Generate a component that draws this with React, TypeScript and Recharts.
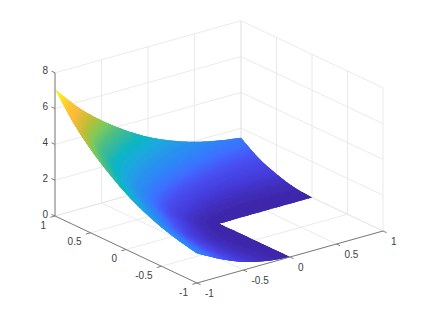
import { ScatterChart, Scatter, XAxis, YAxis } from 'recharts';

const xTicks = [-1, -0.5, 0, 0.5, 1];
const yTicks = [-1, -0.5, 0, 0.5, 1];
const zTicks = [0, 2, 4, 6, 8];
const xTickLabels = ['-1', '-0.5', '0', '0.5', '1'];
const yTickLabels = ['-1', '-0.5', '0', '0.5', '1'];
const zTickLabels = ['0', '2', '4', '6', '8'];

// surface heights, one row per y, x from -1 to 1
const gridX = [-1, -0.75, -0.5, -0.25, 0, 0.25, 0.5, 0.75, 1];
const gridY = [1, 0.75, 0.5, 0.25, 0, -0.25, -0.5, -0.75, -1];
const zY100 = [7.09, 5.71, 4.62, 3.72, 2.97, 2.4, 1.97, 1.67, 1.47];
const zY075 = [5.71, 4.2, 3.15, 2.35, 1.75, 1.32, 1.04, 0.87, 0.8];
const zY050 = [4.66, 3.15, 2.05, 1.25, 0.8, 0.52, 0.4, 0.38, 0.38];
const zY025 = [3.82, 2.45, 1.3, 0.52, 0.22, 0.11, 0.09, 0.09, 0.1];
const zY000 = [3.12, 1.88, 0.88, 0.22, 0, 0, 0, 0, 0];
const zYm025 = [2.58, 1.42, 0.55, 0.11, 0, null, null, null, null];
const zYm050 = [2.17, 1.14, 0.45, 0.1, 0, null, null, null, null];
const zYm075 = [1.87, 1.02, 0.43, 0.12, 0, null, null, null, null];
const zYm100 = [1.65, 0.98, 0.45, 0.14, 0, null, null, null, null];
const zRows = [zY100, zY075, zY050, zY025, zY000, zYm025, zYm050, zYm075, zYm100];

const W = 423;
const H = 317;
const Z_MAX = 7.09;
const SUBDIV = 8;

const PARULA: [number, number, number, number][] = [
  [0, 62, 38, 168],
  [0.06, 70, 60, 220],
  [0.125, 72, 82, 244],
  [0.175, 62, 111, 255],
  [0.24, 46, 135, 247],
  [0.3, 39, 150, 235],
  [0.365, 28, 170, 223],
  [0.44, 10, 183, 195],
  [0.5, 51, 184, 161],
  [0.55, 75, 190, 135],
  [0.625, 128, 203, 88],
  [0.7, 190, 190, 55],
  [0.8, 250, 186, 60],
  [0.875, 254, 200, 48],
  [0.94, 250, 230, 35],
  [1, 249, 251, 20],
];

function parula(t: number) {
  const v = Math.max(0, Math.min(1, t));
  for (let i = 1; i < PARULA.length; i++) {
    if (v <= PARULA[i][0]) {
      const a = PARULA[i - 1];
      const b = PARULA[i];
      const f = (v - a[0]) / (b[0] - a[0]);
      const c = (k: number) => Math.round(a[k] + (b[k] - a[k]) * f);
      return `rgb(${c(1)},${c(2)},${c(3)})`;
    }
  }
  return 'rgb(249,251,20)';
}

// orthographic view of the box, gives chart coordinates
const project = (x: number, y: number, z: number) => ({
  sx: 219 + 93 * x - 71 * y,
  sy: 223.5 - 26 * x - 33.5 * y - 17.9 * z,
});

type Seg = { a: number[]; b: number[]; stroke: string };
const GRID = '#e4e4e4';
const AXIS = '#7d7d7d';
const segs: Seg[] = [];
const add = (a: number[], b: number[], stroke: string) => segs.push({ a, b, stroke });

xTicks.forEach((x) => {
  add([x, -1, 0], [x, 1, 0], GRID);
  add([x, 1, 0], [x, 1, 8], GRID);
});
yTicks.forEach((y) => {
  add([-1, y, 0], [1, y, 0], GRID);
  add([1, y, 0], [1, y, 8], GRID);
});
zTicks.forEach((z) => {
  add([-1, 1, z], [1, 1, z], GRID);
  add([1, 1, z], [1, -1, z], GRID);
});

const axisSegs: Seg[] = [];
const addAxis = (a: number[], b: number[]) => axisSegs.push({ a, b, stroke: AXIS });
addAxis([-1, 1, 0], [-1, 1, 8]);
addAxis([-1, 1, 0], [-1, -1, 0]);
addAxis([-1, -1, 0], [1, -1, 0]);
zTicks.forEach((z) => addAxis([-1, 1, z], [-1, 1.05, z]));
yTicks.forEach((y) => addAxis([-1, y, 0], [-1.05, y, 0]));
xTicks.forEach((x) => addAxis([x, -1, 0], [x, -1.05, 0]));

const gridPoints: any[] = [];
zRows.forEach((row, j) =>
  row.forEach((z, i) => {
    if (z !== null) gridPoints.push({ ...project(gridX[i], gridY[j], z), i, j, z });
  })
);

const labels = [
  ...zTicks.map((z, k) => ({ ...project(-1, 1, z), label: zTickLabels[k], dx: -7, dy: 1.5, anchor: 'end' })),
  ...yTicks.map((y, k) => ({ ...project(-1, y, 0), label: yTickLabels[k], dx: -9, dy: 12.5, anchor: 'end' })),
  ...xTicks.map((x, k) => ({ ...project(x, -1, 0), label: xTickLabels[k], dx: 8, dy: 14, anchor: 'start' })),
];

const catmull = (p0: number, p1: number, p2: number, p3: number, t: number) =>
  0.5 * (2 * p1 + (p2 - p0) * t + (2 * p0 - 5 * p1 + 4 * p2 - p3) * t * t + (3 * p1 - p0 - 3 * p2 + p3) * t * t * t);

// shading interp: the mesh is filled in small patches between the grid nodes,
// a blurred copy on top hides the patch seams, the clip keeps the edge sharp
function SurfaceMesh({ points }: { points: { x: number; y: number }[] }) {
  const nodes: Record<string, number[]> = {};
  gridPoints.forEach((g, k) => {
    nodes[`${g.i},${g.j}`] = [points[k].x, points[k].y, g.z];
  });
  const at = (i: number, j: number): number[] => {
    const n = nodes[`${i},${j}`];
    if (n) return n;
    for (const [d, e] of [[1, 0], [-1, 0], [0, 1], [0, -1]]) {
      const a = nodes[`${i + d},${j + e}`];
      const b = nodes[`${i + 2 * d},${j + 2 * e}`];
      if (a && b) return a.map((v, m) => 2 * v - b[m]);
    }
    for (const [d, e] of [[1, 1], [-1, 1], [1, -1], [-1, -1]]) {
      const a = nodes[`${i + d},${j + e}`];
      if (a) return a;
    }
    return [0, 0, 0];
  };
  const sample = (i: number, j: number, s: number, t: number) => {
    const cols = [-1, 0, 1, 2].map((dj) => {
      const p = [-1, 0, 1, 2].map((di) => at(i + di, j + dj));
      return [0, 1, 2].map((m) => catmull(p[0][m], p[1][m], p[2][m], p[3][m], s));
    });
    return [0, 1, 2].map((m) => catmull(cols[0][m], cols[1][m], cols[2][m], cols[3][m], t));
  };
  const polys: any[] = [];
  // far corner first
  for (let j = 0; j < gridY.length - 1; j++) {
    for (let i = gridX.length - 2; i >= 0; i--) {
      if (!nodes[`${i},${j}`] || !nodes[`${i + 1},${j}`] || !nodes[`${i},${j + 1}`] || !nodes[`${i + 1},${j + 1}`]) continue;
      for (let v = 0; v < SUBDIV; v++) {
        for (let u = SUBDIV - 1; u >= 0; u--) {
          const c = [
            sample(i, j, u / SUBDIV, v / SUBDIV),
            sample(i, j, (u + 1) / SUBDIV, v / SUBDIV),
            sample(i, j, (u + 1) / SUBDIV, (v + 1) / SUBDIV),
            sample(i, j, u / SUBDIV, (v + 1) / SUBDIV),
          ];
          const col = parula((c[0][2] + c[1][2] + c[2][2] + c[3][2]) / 4 / Z_MAX);
          polys.push(
            <polygon
              key={`${i}-${j}-${u}-${v}`}
              points={c.map((q) => `${q[0].toFixed(2)},${q[1].toFixed(2)}`).join(' ')}
              fill={col}
              stroke={col}
              strokeWidth={1}
            />
          );
        }
      }
    }
  }
  // outline of the L, walked round cell by cell
  const rim: number[][] = [];
  const steps = [...Array(SUBDIV).keys()].map((k) => k / SUBDIV);
  for (let i = 0; i < 8; i++) steps.forEach((s) => rim.push(sample(i, 0, s, 0)));
  for (let j = 0; j < 4; j++) steps.forEach((t) => rim.push(sample(7, j, 1, t)));
  for (let i = 7; i >= 4; i--) steps.forEach((s) => rim.push(sample(i, 3, 1 - s, 1)));
  for (let j = 4; j < 8; j++) steps.forEach((t) => rim.push(sample(3, j, 1, t)));
  for (let i = 3; i >= 0; i--) steps.forEach((s) => rim.push(sample(i, 7, 1 - s, 1)));
  for (let j = 7; j >= 0; j--) steps.forEach((t) => rim.push(sample(0, j, 0, 1 - t)));
  const rimPoints = rim.map((q) => `${q[0].toFixed(2)},${q[1].toFixed(2)}`).join(' ');
  return (
    <g>
      <defs>
        <clipPath id="surfaceRim">
          <polygon points={rimPoints} />
        </clipPath>
        <filter id="surfaceBlur" x="-10%" y="-10%" width="120%" height="120%">
          <feGaussianBlur stdDeviation={1.2} />
        </filter>
      </defs>
      <g clipPath="url(#surfaceRim)">
        <g>{polys}</g>
        <g filter="url(#surfaceBlur)">{polys}</g>
      </g>
    </g>
  );
}

const noDot = () => <g />;

export default function App() {
  return (
    <div style={{ position: 'absolute', left: 0, top: 0, background: '#fff' }}>
      <ScatterChart width={W} height={H} margin={{ top: 0, right: 0, bottom: 0, left: 0 }}>
        <XAxis type="number" dataKey="sx" domain={[0, W]} hide />
        <YAxis type="number" dataKey="sy" domain={[0, H]} reversed hide />
        {segs.map((s, k) => (
          <Scatter
            key={`g${k}`}
            data={[project(s.a[0], s.a[1], s.a[2]), project(s.b[0], s.b[1], s.b[2])]}
            line={{ stroke: s.stroke, strokeWidth: 0.8 }}
            shape={noDot}
            isAnimationActive={false}
          />
        ))}
        <Scatter
          data={gridPoints}
          line={(p: any) => <SurfaceMesh points={p.points} />}
          shape={noDot}
          isAnimationActive={false}
        />
        {axisSegs.map((s, k) => (
          <Scatter
            key={`a${k}`}
            data={[project(s.a[0], s.a[1], s.a[2]), project(s.b[0], s.b[1], s.b[2])]}
            line={{ stroke: s.stroke, strokeWidth: 1 }}
            shape={noDot}
            isAnimationActive={false}
          />
        ))}
        <Scatter
          data={labels}
          shape={(p: any) => (
            <text
              x={p.cx + p.payload.dx}
              y={p.cy + p.payload.dy}
              textAnchor={p.payload.anchor}
              fontFamily="Liberation Sans"
              fontSize={10}
              fill="#404040"
            >
              {p.payload.label}
            </text>
          )}
          isAnimationActive={false}
        />
      </ScatterChart>
    </div>
  );
}
